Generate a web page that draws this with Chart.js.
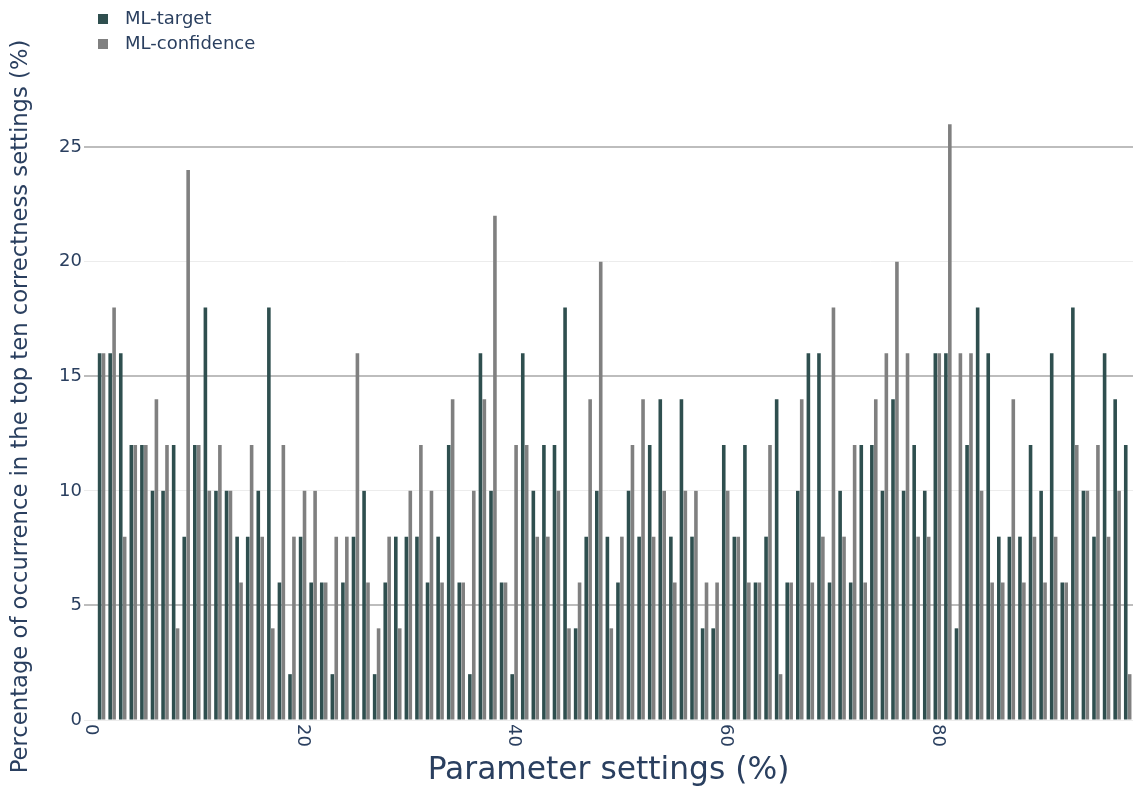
<!DOCTYPE html>
<html>
<head>
<meta charset="utf-8">
<script src="https://cdn.jsdelivr.net/npm/chart.js@4/dist/chart.umd.min.js"></script>
<style>
    body { margin: 0; background: #fff; }
    #wrap { position: relative; width: 1133px; height: 790px; }
    .legend-item { position: absolute; left: 98px; font: 18px 'DejaVu Sans', sans-serif; color: #2a3f5f; line-height: 22px; }
    .legend-item span { display: inline-block; width: 10px; height: 10px; margin-right: 17px; vertical-align: 0px; }
</style>
</head>
<body>
<div id="wrap">
    <canvas id="chart" width="1133" height="790"></canvas>
    <div class="legend-item" style="top: 7px;"><span style="background:#2f4f4f"></span>ML-target</div>
    <div class="legend-item" style="top: 32px;"><span style="background:#808080"></span>ML-confidence</div>
</div>
<script>
// parameter settings 1..98
const settings = Array.from({ length: 98 }, (_, i) => i + 1);

const mlTarget = [
    16, 16, 16, 12, 12, 10, 10, 12, 8, 12,
    18, 10, 10, 8, 8, 10, 18, 6, 2, 8,
    6, 6, 2, 6, 8, 10, 2, 6, 8, 8,
    8, 6, 8, 12, 6, 2, 16, 10, 6, 2,
    16, 10, 12, 12, 18, 4, 8, 10, 8, 6,
    10, 8, 12, 14, 8, 14, 8, 4, 4, 12,
    8, 12, 6, 8, 14, 6, 10, 16, 16, 6,
    10, 6, 12, 12, 10, 14, 10, 12, 10, 16,
    16, 4, 12, 18, 16, 8, 8, 8, 12, 10,
    16, 6, 18, 10, 8, 16, 14, 12
];

const mlConfidence = [
    16, 18, 8, 12, 12, 14, 12, 4, 24, 12,
    10, 12, 10, 6, 12, 8, 4, 12, 8, 10,
    10, 6, 8, 8, 16, 6, 4, 8, 4, 10,
    12, 10, 6, 14, 6, 10, 14, 22, 6, 12,
    12, 8, 8, 10, 4, 6, 14, 20, 4, 8,
    12, 14, 8, 10, 6, 10, 10, 6, 6, 10,
    8, 6, 6, 12, 2, 6, 14, 6, 8, 18,
    8, 12, 6, 14, 16, 20, 16, 8, 8, 16,
    26, 16, 16, 10, 6, 6, 14, 6, 8, 6,
    8, 6, 12, 10, 12, 8, 10, 2
];

const xTickLabels = [0, 20, 40, 60, 80];

const fontFamily = "'DejaVu Sans', Verdana, sans-serif";
const textColor = '#2a3f5f';

// plotly-style rotated x tick labels (clockwise)
const xLabelsPlugin = {
    id: 'xLabels',
    afterDraw(chart) {
        const { ctx, chartArea } = chart;
        const xs = chart.scales.x;
        ctx.save();
        ctx.font = `18px ${fontFamily}`;
        ctx.fillStyle = textColor;
        ctx.textAlign = 'left';
        ctx.textBaseline = 'middle';
        xTickLabels.forEach(v => {
            ctx.save();
            ctx.translate(xs.getPixelForValue(v), chartArea.bottom + 4);
            ctx.rotate(Math.PI / 2);
            ctx.fillText(String(v), 0, 0);
            ctx.restore();
        });
        ctx.restore();
    }
};

new Chart(document.getElementById('chart'), {
    type: 'bar',
    data: {
        datasets: [
            {
                label: 'ML-target',
                data: settings.map((s, i) => ({ x: s, y: mlTarget[i] })),
                backgroundColor: '#2f4f4f',
                categoryPercentage: 0.74,
                barPercentage: 0.92
            },
            {
                label: 'ML-confidence',
                data: settings.map((s, i) => ({ x: s, y: mlConfidence[i] })),
                backgroundColor: '#808080',
                categoryPercentage: 0.74,
                barPercentage: 0.92
            }
        ]
    },
    options: {
        responsive: false,
        animation: false,
        layout: { padding: { top: 93, left: 0, right: 0, bottom: 0 } },
        plugins: {
            legend: { display: false },
            tooltip: { enabled: false }
        },
        scales: {
            x: {
                type: 'linear',
                min: -0.66,
                max: 98.5,
                offset: false,
                grid: { display: false },
                border: { display: false },
                ticks: { display: false },
                title: {
                    display: true,
                    text: 'Parameter settings (%)',
                    color: textColor,
                    font: { family: fontFamily, size: 31.3 },
                    padding: { top: 0, bottom: 0 }
                },
                afterFit: scale => { scale.height = 70; }
            },
            y: {
                min: 0,
                max: 27.36,
                border: { display: false },
                grid: {
                    drawTicks: false,
                    color: c => (c.tick && c.tick.value % 10 === 5) ? '#bdbdbd' : '#ececec',
                    lineWidth: c => (c.tick && c.tick.value % 10 === 5) ? 2 : 1
                },
                ticks: {
                    stepSize: 5,
                    includeBounds: false,
                    padding: 2,
                    color: textColor,
                    font: { family: fontFamily, size: 18 }
                },
                title: {
                    display: true,
                    text: 'Percentage of occurrence in the top ten correctness settings (%)',
                    color: textColor,
                    font: { family: fontFamily, size: 22.7 },
                    padding: { top: 7, bottom: 0 }
                },
                afterFit: scale => { scale.width = 84; }
            }
        }
    },
    plugins: [xLabelsPlugin]
});
</script>
</body>
</html>
